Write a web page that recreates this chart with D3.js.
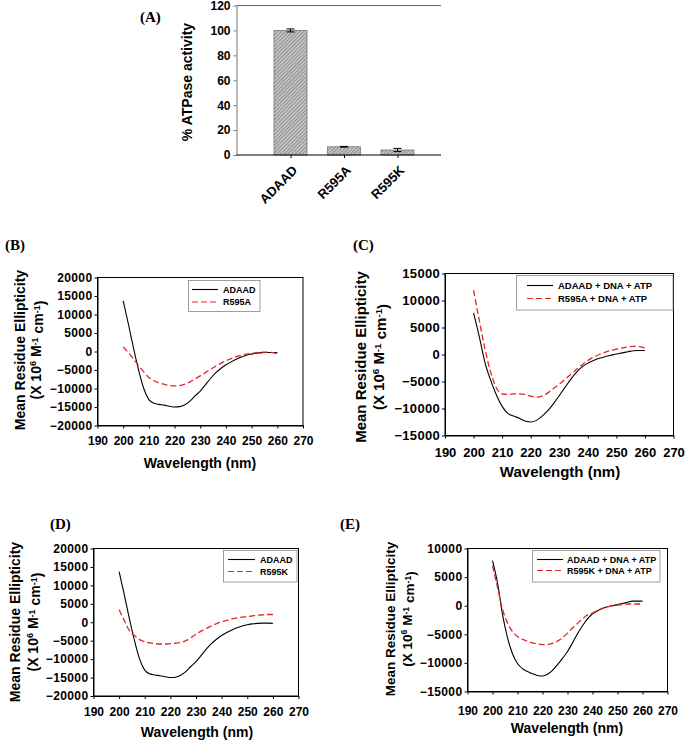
<!DOCTYPE html>
<html><head><meta charset="utf-8">
<script src="https://cdn.jsdelivr.net/npm/d3@7"></script>
<style>
html,body{margin:0;padding:0;background:#fff;}
text{font-family:"Liberation Sans",Arial,sans-serif;font-weight:bold;fill:#000;}
.plab{font-family:"Liberation Serif","Times New Roman",serif;font-weight:bold;}
</style></head>
<body>
<svg id="c" width="685" height="746"></svg>
<script>
// ---------- DATA ----------
const barCategories = ["ADAAD", "R595A", "R595K"];
const barValues = [100, 6.6, 4.0];
const barErrors = [1.2, 0.3, 1.3];
const barTicks = [0, 20, 40, 60, 80, 100, 120];

const wavelength = [200,202,204,206,208,210,212,214,216,218,220,222,224,226,228,230,232,234,236,238,240,242,244,246,248,250,252,254,256,258,260];
const xTicks = [190,200,210,220,230,240,250,260,270];

const adaadB = [13700,7500,1000,-5000,-10000,-13000,-14000,-14300,-14500,-14800,-15000,-14900,-14400,-13400,-12000,-10700,-9000,-7300,-5800,-4600,-3600,-2800,-2100,-1500,-1000,-700,-450,-300,-250,-250,-300];
const r595aB = [1200,-300,-2000,-3800,-5500,-7000,-7900,-8500,-8900,-9200,-9300,-9200,-8800,-8200,-7400,-6600,-5700,-4800,-4000,-3200,-2500,-1900,-1400,-1000,-700,-500,-300,-200,-150,-300,-600];

const adaadC = [7700,3300,-1500,-4800,-7500,-9600,-10900,-11400,-11800,-12300,-12500,-12200,-11400,-10400,-9100,-7600,-6100,-4600,-3300,-2300,-1600,-1100,-700,-400,-150,100,300,500,700,750,750];
const r595aC = [11900,6300,1000,-3300,-6200,-7300,-7400,-7300,-7300,-7400,-7700,-7900,-7700,-7100,-6300,-5500,-4600,-3700,-2800,-1900,-1100,-500,0,400,700,1000,1200,1400,1500,1450,1200];

const adaadD = [13700,7500,1000,-5000,-10000,-13000,-14000,-14300,-14500,-14800,-15000,-14900,-14400,-13400,-12000,-10700,-9000,-7300,-5800,-4600,-3600,-2800,-2100,-1500,-1000,-700,-450,-300,-250,-250,-300];
const r595kD = [3400,500,-2300,-3600,-4700,-5300,-5600,-5800,-5900,-5900,-5800,-5700,-5500,-5000,-4200,-3200,-2400,-1700,-1000,-400,100,500,900,1200,1400,1500,1700,1900,2000,2100,2100];

const adaadE = [7900,4000,-1500,-5600,-8400,-10100,-11000,-11500,-11900,-12200,-12300,-12000,-11300,-10300,-9200,-8000,-6500,-4900,-3500,-2300,-1400,-900,-500,-200,0,200,400,600,800,800,800];
const r595kE = [7000,3200,-600,-3000,-4500,-5400,-5900,-6200,-6500,-6700,-6800,-6800,-6600,-6200,-5600,-4800,-3900,-3100,-2300,-1600,-1300,-800,-450,-200,0,100,200,300,300,300,300];

const ticksB = [-20000,-15000,-10000,-5000,0,5000,10000,15000,20000];
const ticksC = [-15000,-10000,-5000,0,5000,10000,15000];
const ticksE = [-15000,-10000,-5000,0,5000,10000];

// ---------- LAYOUT ----------
const svg = d3.select("#c");
const RED = "#e0262b";

const defs = svg.append("defs");
const pat = defs.append("pattern").attr("id","hatch").attr("patternUnits","userSpaceOnUse")
  .attr("width",2.6).attr("height",2.6).attr("patternTransform","rotate(45)");
pat.append("rect").attr("width",2.6).attr("height",2.6).attr("fill","#c4c4c4");
pat.append("line").attr("x1",0).attr("y1",0).attr("x2",0).attr("y2",2.6).attr("stroke","#707070").attr("stroke-width",1.2);

// ---------- PANEL A ----------
(function(){
  const L = 236.5, R = 441, T = 5.5, B = 155;
  const x = d3.scalePoint().domain(barCategories).range([290.5, 397.5]);
  const y = d3.scaleLinear().domain([0,120]).range([B, T]);
  const bw = 33;
  const g = svg.append("g");
  g.selectAll("rect.bar").data(barCategories).join("rect")
    .attr("x", d=>x(d)-bw/2).attr("y", (d,i)=>y(barValues[i]))
    .attr("width", bw).attr("height", (d,i)=>B - y(barValues[i]))
    .attr("fill","url(#hatch)").attr("stroke","#777").attr("stroke-width",0.8);
  barCategories.forEach((c,i)=>{
    const cx = x(c), y1 = y(barValues[i]+barErrors[i]), y2 = y(barValues[i]-barErrors[i]);
    g.append("line").attr("x1",cx).attr("x2",cx).attr("y1",y1).attr("y2",y2).attr("stroke","#000").attr("stroke-width",1);
    [y1,y2].forEach(yy=>g.append("line").attr("x1",cx-4).attr("x2",cx+4).attr("y1",yy).attr("y2",yy).attr("stroke","#000").attr("stroke-width",1));
  });
  g.append("line").attr("x1",L).attr("x2",R).attr("y1",T).attr("y2",T).attr("stroke","#666").attr("stroke-width",1);
  const ya = g.append("g").attr("transform",`translate(${L},0)`)
    .call(d3.axisLeft(y).tickValues(barTicks).tickSize(3).tickSizeOuter(0));
  ya.select(".domain").attr("stroke","#777");
  ya.selectAll(".tick line").attr("stroke","#777");
  ya.selectAll("text").attr("font-size",12).attr("x",-6);
  const xa = g.append("g").attr("transform",`translate(0,${B})`)
    .call(d3.axisBottom(x).tickSize(3).tickSizeOuter(0));
  xa.select(".domain").attr("d",`M${L},0H${R}`).attr("stroke","#000");
  xa.selectAll("text").attr("font-size",13).attr("text-anchor","end")
    .attr("x",0).attr("y",0).attr("dy","0.35em")
    .attr("transform","translate(4,13) rotate(-45)");
  g.append("text").attr("transform","translate(192,82) rotate(-90)").attr("text-anchor","middle")
    .attr("font-size",14).text("% ATPase activity");
  svg.append("text").attr("class","plab").attr("x",140).attr("y",22).attr("font-size",15).text("(A)");
})();

// ---------- CD PANELS ----------
function cdPanel(cfg){
  const g = svg.append("g");
  const x = d3.scaleLinear().domain([190,270]).range([cfg.L, cfg.R]);
  const y = d3.scaleLinear().domain(cfg.yDom).range([cfg.B, cfg.T]);
  g.append("rect").attr("x",cfg.L).attr("y",cfg.T).attr("width",cfg.R-cfg.L).attr("height",cfg.B-cfg.T)
    .attr("fill","none").attr("stroke","#000").attr("stroke-width",1);
  const xa = g.append("g").attr("transform",`translate(0,${cfg.B})`)
    .call(d3.axisBottom(x).tickValues(xTicks).tickSize(3).tickSizeOuter(0));
  xa.selectAll("text").attr("font-size",cfg.tf).attr("y",cfg.xly).attr("dy",0);
  const ya = g.append("g").attr("transform",`translate(${cfg.L},0)`)
    .call(d3.axisLeft(y).tickValues(cfg.yTicks).tickSize(3).tickSizeOuter(0).tickFormat(d3.format("d")));
  ya.selectAll("text").attr("font-size",cfg.tf).attr("x",-5).attr("letter-spacing",cfg.ls);
  g.selectAll(".domain").attr("stroke","#000");
  const line = d3.line().x((d,i)=>x(wavelength[i])).y(d=>y(d)).curve(d3.curveMonotoneX);
  g.append("path").datum(cfg.s1).attr("d",line).attr("fill","none").attr("stroke","#000").attr("stroke-width",1.1);
  g.append("path").datum(cfg.s2).attr("d",line).attr("fill","none").attr("stroke",RED).attr("stroke-width",1.3).attr("stroke-dasharray","6,3");
  const lg = cfg.leg;
  g.append("rect").attr("x",lg.x).attr("y",lg.y).attr("width",lg.w).attr("height",lg.h)
    .attr("fill","#fff").attr("stroke","#888").attr("stroke-width",0.8);
  [[cfg.n1,"#000",null,lg.r1],[cfg.n2,RED,"6,3",lg.r2]].forEach(([n,c,da,ry])=>{
    g.append("line").attr("x1",lg.l1).attr("x2",lg.l2).attr("y1",ry).attr("y2",ry)
      .attr("stroke",c).attr("stroke-width",1.1).attr("stroke-dasharray",da);
    g.append("text").attr("x",lg.tx).attr("y",ry).attr("dy","0.35em").attr("font-size",lg.fs).text(n);
  });
  g.append("text").attr("transform",`translate(${cfg.yl1},${cfg.ylc}) rotate(-90)`)
    .attr("text-anchor","middle").attr("font-size",cfg.yf).text("Mean Residue Ellipticity");
  const y2 = g.append("text").attr("transform",`translate(${cfg.yl2},${cfg.ylc}) rotate(-90)`)
    .attr("text-anchor","middle").attr("font-size",cfg.yf);
  y2.append("tspan").text("(X 10");
  y2.append("tspan").attr("font-size",cfg.yf*0.65).attr("dy","-0.55em").text("6");
  y2.append("tspan").attr("dy","0.36em").text(" M");
  y2.append("tspan").attr("font-size",cfg.yf*0.65).attr("dy","-0.36em").text("-1");
  y2.append("tspan").attr("dy","0.36em").text(" cm");
  y2.append("tspan").attr("font-size",cfg.yf*0.65).attr("dy","-0.36em").text("-1");
  y2.append("tspan").attr("dy","0.36em").text(")");
  g.append("text").attr("x",cfg.xlx).attr("y",cfg.xlb).attr("text-anchor","middle").attr("font-size",cfg.xf).text("Wavelength (nm)");
  svg.append("text").attr("class","plab").attr("x",cfg.px).attr("y",cfg.py).attr("font-size",15).text(cfg.plab);
}

cdPanel({L:97.5,R:303,T:277.5,B:425.5,yDom:[-20000,20000],yTicks:ticksB,tf:12,ls:0.4,xly:19,
  s1:adaadB,s2:r595aB,n1:"ADAAD",n2:"R595A",
  leg:{x:188.5,y:280.5,w:71.5,h:31,l1:192,l2:218,tx:223,r1:289.5,r2:302,fs:9},
  yl1:25,yl2:41,ylc:350,yf:14,xlx:200,xlb:468,xf:14,px:5,py:250,plab:"(B)"});

cdPanel({L:445,R:673.5,T:273.5,B:435.5,yDom:[-15000,15000],yTicks:ticksC,tf:13,ls:0.3,xly:21,
  s1:adaadC,s2:r595aC,n1:"ADAAD + DNA + ATP",n2:"R595A + DNA + ATP",
  leg:{x:516.5,y:275.5,w:156.5,h:34.5,l1:527,l2:553,tx:558,r1:285.5,r2:298.5,fs:9.5},
  yl1:366,yl2:384,ylc:357,yf:15,xlx:560,xlb:477,xf:15,px:353,py:250,plab:"(C)"});

cdPanel({L:93.5,R:298.5,T:548.5,B:696,yDom:[-20000,20000],yTicks:ticksB,tf:12,ls:0.4,xly:20,
  s1:adaadD,s2:r595kD,n1:"ADAAD",n2:"R595K",
  leg:{x:223.5,y:550.5,w:73.5,h:31.5,l1:228,l2:255,tx:260,r1:559.5,r2:571.5,fs:9},
  yl1:20,yl2:38,ylc:622,yf:14,xlx:197,xlb:737,xf:14,px:50,py:529,plab:"(D)"});

cdPanel({L:467.5,R:667.5,T:548.5,B:691.5,yDom:[-15000,10000],yTicks:ticksE,tf:12,ls:0.4,xly:23,
  s1:adaadE,s2:r595kE,n1:"ADAAD + DNA + ATP",n2:"R595K + DNA + ATP",
  leg:{x:532.5,y:550.5,w:127.5,h:31.5,l1:537,l2:563,tx:567,r1:559.5,r2:570.5,fs:9},
  yl1:395,yl2:412,ylc:619,yf:13.5,xlx:567,xlb:733,xf:14,px:340,py:529,plab:"(E)"});
</script>
</body></html>
